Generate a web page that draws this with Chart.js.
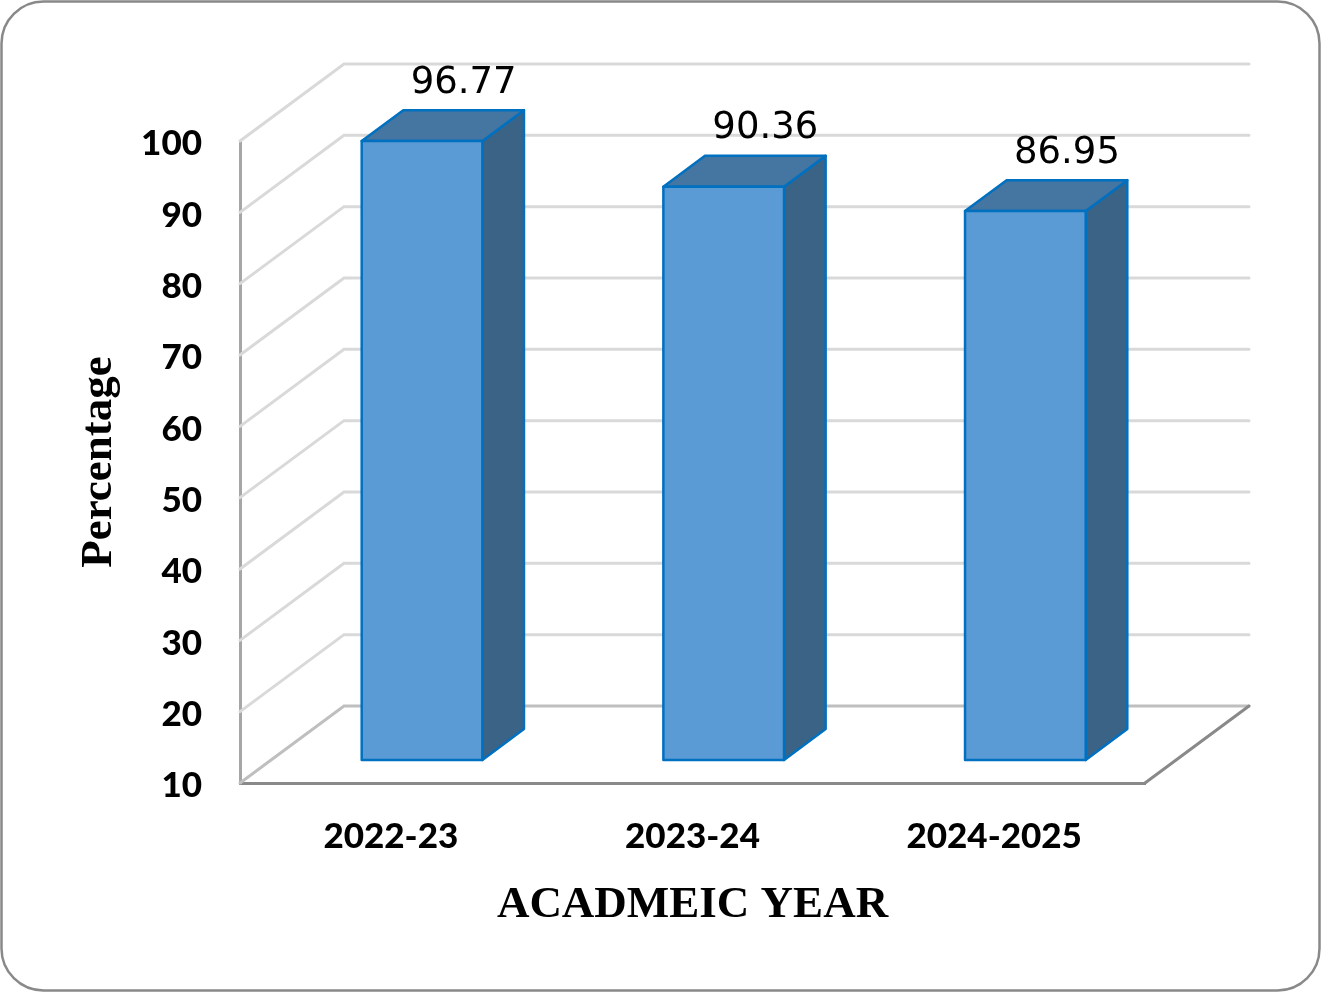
<!DOCTYPE html>
<html>
<head>
<meta charset="utf-8">
<script src="https://cdn.jsdelivr.net/npm/chart.js@4.4.1/dist/chart.umd.min.js"></script>
<style>
  html, body { margin: 0; padding: 0; background: #fff; }
  #wrap { width: 1322px; height: 992px; }
</style>
</head>
<body>
<div id="wrap"><canvas id="passChart" width="1322" height="992"></canvas></div>
<script>
// chart values
const YEARS = ['2022-23', '2023-24', '2024-2025'];
const PASS_PCT = [96.77, 90.36, 86.95];
const Y_TICKS = [10, 20, 30, 40, 50, 60, 70, 80, 90, 100];

// 3D look (Excel style column)
const DEPTH = { x: 104, y: -77 };      // wall depth
const BAR_FRONT = 0.3;                 // where the bar front sits in the depth
const BAR_DEPTH = 0.4;                 // how deep the bar is
const COLORS = {
    front: '#5B9BD5',
    top: '#4575A1',
    side: '#3A6386',
    edge: '#0070C0',
    grid: '#D9D9D9',
    floor: '#898989'
};

const frameBorder = {
    id: 'frameBorder',
    beforeDraw(chart) {
        const ctx = chart.ctx;
        ctx.save();
        ctx.strokeStyle = '#898989';
        ctx.lineWidth = 2.5;
        ctx.beginPath();
        ctx.roundRect(1.5, 1.5, 1318, 989, 42);
        ctx.stroke();
        ctx.restore();
    }
};

const wall3d = {
    id: 'wall3d',
    beforeDatasetsDraw(chart) {
        const ctx = chart.ctx;
        const { left, right, bottom } = chart.chartArea;
        const yScale = chart.scales.y;
        ctx.save();
        ctx.lineCap = 'round';
        // side wall + back wall grid lines
        Y_TICKS.forEach(v => {
            const y = yScale.getPixelForValue(v);
            ctx.strokeStyle = v === Y_TICKS[0] ? '#BFBFBF' : COLORS.grid;
            ctx.lineWidth = 3;
            ctx.beginPath();
            ctx.moveTo(left, y);
            ctx.lineTo(left + DEPTH.x, y + DEPTH.y);
            ctx.lineTo(right + DEPTH.x, y + DEPTH.y);
            ctx.stroke();
        });
        // floor right edge
        ctx.strokeStyle = COLORS.floor;
        ctx.lineWidth = 3;
        ctx.beginPath();
        ctx.moveTo(right, bottom);
        ctx.lineTo(right + DEPTH.x, bottom + DEPTH.y);
        ctx.stroke();
        ctx.restore();
    },
    afterDatasetsDraw(chart) {
        const ctx = chart.ctx;
        const meta = chart.getDatasetMeta(0);
        const fx = DEPTH.x * BAR_FRONT, fy = DEPTH.y * BAR_FRONT;
        const bx = DEPTH.x * BAR_DEPTH, by = DEPTH.y * BAR_DEPTH;
        ctx.save();
        ctx.lineJoin = 'round';
        meta.data.forEach((bar, i) => {
            const x0 = bar.x - bar.width / 2 + fx;
            const x1 = bar.x + bar.width / 2 + fx;
            const yT = bar.y + fy;
            const yB = bar.base + fy;
            ctx.strokeStyle = COLORS.edge;
            ctx.lineWidth = 2.5;

            // side
            ctx.beginPath();
            ctx.moveTo(x1, yT);
            ctx.lineTo(x1 + bx, yT + by);
            ctx.lineTo(x1 + bx, yB + by);
            ctx.lineTo(x1, yB);
            ctx.closePath();
            ctx.fillStyle = COLORS.side;
            ctx.fill();
            ctx.stroke();

            // top
            ctx.beginPath();
            ctx.moveTo(x0, yT);
            ctx.lineTo(x0 + bx, yT + by);
            ctx.lineTo(x1 + bx, yT + by);
            ctx.lineTo(x1, yT);
            ctx.closePath();
            ctx.fillStyle = COLORS.top;
            ctx.fill();
            ctx.stroke();

            // front
            ctx.fillStyle = COLORS.front;
            ctx.fillRect(x0, yT, x1 - x0, yB - yT);
            ctx.strokeRect(x0, yT, x1 - x0, yB - yT);

            // value label
            ctx.fillStyle = '#000';
            ctx.font = '37px "DejaVu Sans"';
            ctx.textAlign = 'center';
            ctx.textBaseline = 'middle';
            ctx.fillText(PASS_PCT[i].toFixed(2), (x0 + x1) / 2 + bx, yT + by - 27);
        });
        ctx.restore();
    }
};

const tickFont = { family: 'Lato', size: 35, weight: '900' };
const titleFont = { family: '"Liberation Serif"', size: 45, weight: 'bold' };

new Chart(document.getElementById('passChart'), {
    type: 'bar',
    data: {
        labels: YEARS,
        datasets: [{
            data: PASS_PCT,
            base: Y_TICKS[0],
            backgroundColor: 'rgba(0,0,0,0)',
            borderWidth: 0,
            barPercentage: 0.4,
            categoryPercentage: 1
        }]
    },
    options: {
        responsive: false,
        animation: false,
        devicePixelRatio: 1,
        layout: { padding: { left: 60, top: 141, right: 177, bottom: 40 } },
        plugins: { legend: { display: false }, tooltip: { enabled: false } },
        scales: {
            x: {
                grid: { display: false, drawTicks: false },
                border: { color: COLORS.floor, width: 3 },
                ticks: { font: tickFont, color: '#000', padding: 33 },
                title: {
                    display: true,
                    text: 'ACADMEIC YEAR',
                    color: '#000',
                    font: titleFont,
                    padding: { top: 0, bottom: 20 }
                },
                afterFit: s => { s.height = 169; }
            },
            y: {
                min: 10,
                max: 100,
                afterBuildTicks: s => { s.ticks = Y_TICKS.map(v => ({ value: v })); },
                grid: { display: false, drawTicks: false },
                border: { color: '#A6A6A6', width: 3 },
                ticks: { font: tickFont, color: '#000', padding: 38, labelOffset: 3 },
                title: {
                    display: true,
                    text: 'Percentage',
                    color: '#000',
                    font: titleFont,
                    padding: { top: 12, bottom: 0 }
                },
                afterFit: s => { s.width = 180; }
            }
        }
    },
    plugins: [frameBorder, wall3d]
});
</script>
</body>
</html>
